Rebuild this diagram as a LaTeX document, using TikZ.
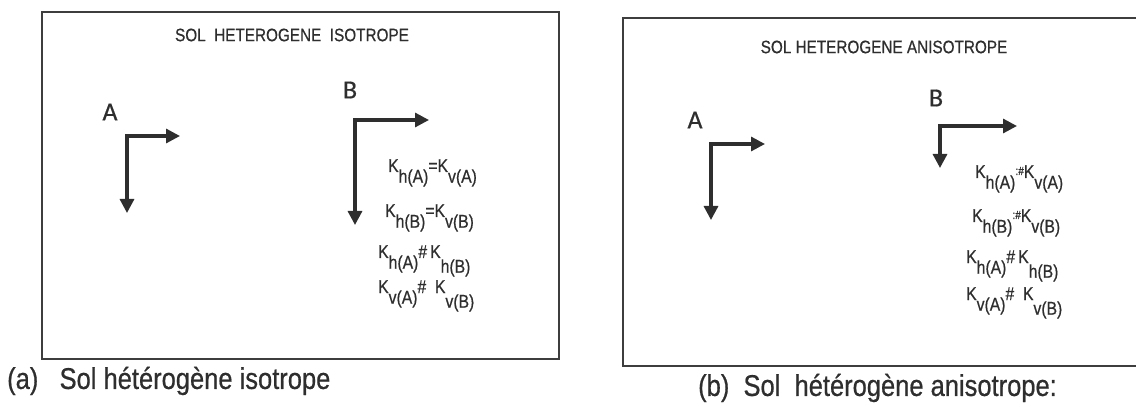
\documentclass[tikz,border=0pt]{standalone}
\usepackage{fontspec}
\setmainfont{Liberation Sans}
\newfontfamily\narfont[FakeStretch=0.85,FakeBold=0.6]{Liberation Sans}
\newfontfamily\labfont[FakeBold=0.6]{Carlito}
\usetikzlibrary{arrows.meta}
\definecolor{ink}{HTML}{2E2E2E}
\definecolor{framec}{HTML}{3E3E3E}
\newcommand{\Kx}[2][0pt]{K\raisebox{\dimexpr-0.58em-#1\relax}{#2}}
\newcommand{\colhash}{\raisebox{3pt}{\fontsize{12}{12}\selectfont:\#}}
\begin{document}
\begin{tikzpicture}[x=1pt,y=-1pt,
  frame/.style={draw=framec,line width=2pt},
  axis/.style={draw=ink,line width=3.2pt,line join=miter,
    {Triangle[length=14pt,width=14pt]}-{Triangle[length=14pt,width=14pt]}},
  title/.style={text=ink,font=\narfont\fontsize{18}{18}\selectfont,inner sep=0pt},
  lab/.style={text=ink,font=\labfont\fontsize{26}{26}\selectfont,inner sep=0pt},
  form/.style={text=ink,font=\narfont\fontsize{18.5}{18.5}\selectfont,inner sep=0pt,anchor=base west},
  captext/.style={text=ink,font=\narfont\fontsize{30}{30}\selectfont,inner sep=0pt}]
\useasboundingbox (0,0) rectangle (1136,409);
\begin{scope}
\clip (0,0) rectangle (1136,409);
% frames
\draw[frame] (42,12) rectangle (559,359);
\draw[frame] (623,18) rectangle (1150,366);
% left panel
\node[title] (t1) at (292,35) {SOL\ \ HETEROGENE\ \ ISOTROPE};
\node[lab] (A1) at (110,112) {A};
\node[lab] (B1) at (350,90) {B};
\coordinate (A1o) at (127,136);
\coordinate (A1x) at (180,136);
\coordinate (A1y) at (127,213);
\draw[axis] (A1x) -- (A1o) -- (A1y);
\coordinate (B1o) at (355,120);
\coordinate (B1x) at (429,120);
\coordinate (B1y) at (355,225);
\draw[axis] (B1x) -- (B1o) -- (B1y);
\node[form] (f11) at (388,172) {\Kx{h(A)}=\Kx{v(A)}};
\node[form] (f12) at (385,217) {\Kx{h(B)}=\Kx{v(B)}};
\node[form] (f13) at (378,258) {\Kx{h(A)}\#\,\Kx[4pt]{h(B)}};
\node[form] (f14) at (378,293) {\Kx{v(A)}\#\ \ \Kx[4pt]{v(B)}};
\node[captext,anchor=west] (c1) at (7,381) {(a)\ \ \ Sol hétérogène isotrope};
% right panel
\node[title] (t2) at (884,47) {SOL HETEROGENE ANISOTROPE};
\node[lab] (A2) at (695,120) {A};
\node[lab] (B2) at (936,98) {B};
\coordinate (A2o) at (711,144);
\coordinate (A2x) at (765,144);
\coordinate (A2y) at (711,220);
\draw[axis] (A2x) -- (A2o) -- (A2y);
\coordinate (B2o) at (940,126);
\coordinate (B2x) at (1017,126);
\coordinate (B2y) at (940,168);
\draw[axis] (B2x) -- (B2o) -- (B2y);
\node[form] (f21) at (975,178) {\Kx{h(A)}\colhash\Kx{v(A)}};
\node[form] (f22) at (972,222) {\Kx{h(B)}\colhash\Kx{v(B)}};
\node[form] (f23) at (966,263) {\Kx{h(A)}\#\,\Kx[4pt]{h(B)}};
\node[form] (f24) at (966,300) {\Kx{v(A)}\#\ \ \Kx[4pt]{v(B)}};
\node[captext,anchor=west] (c2) at (698,388) {(b)\ \ Sol\ \ hétérogène anisotrope:};
\end{scope}
\end{tikzpicture}
\end{document}
